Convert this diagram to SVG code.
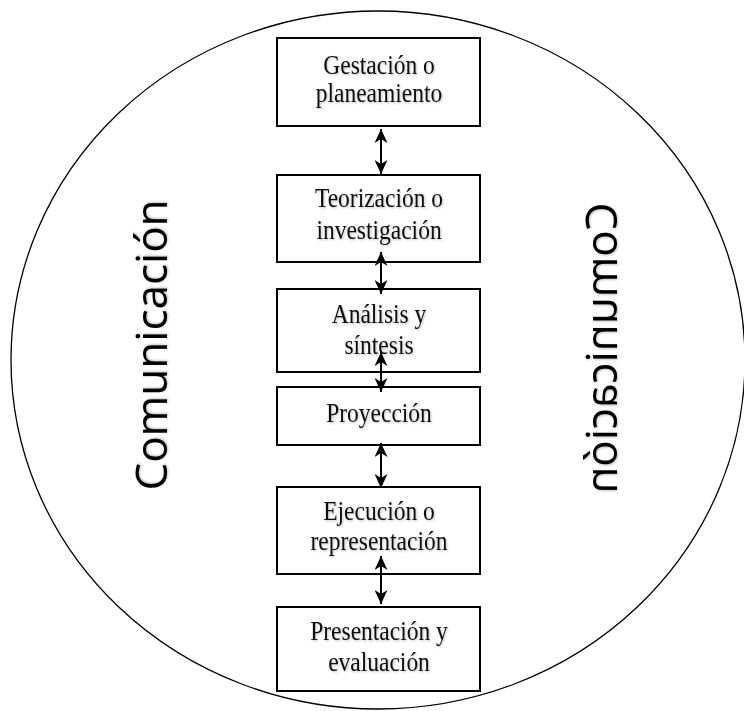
<svg xmlns="http://www.w3.org/2000/svg" width="744" height="711" viewBox="0 0 744 711">
  <defs>
    <style>
      .box { fill: #ffffff; stroke: #000000; stroke-width: 2; }
      .lbl { font-family: "Liberation Serif", "Times New Roman", serif; font-size: 23.5px; fill: #111111; text-anchor: middle; filter: url(#soft); }
      .side { font-family: "Open Sans", "Noto Sans", sans-serif; font-size: 44px; fill: #000000; text-anchor: middle; filter: url(#soft); }
      .link { stroke: #000000; stroke-width: 2; fill: none; marker-start: url(#head); marker-end: url(#head); }
    </style>
    <filter id="soft" x="-10%" y="-20%" width="130%" height="150%">
      <feDropShadow dx="1" dy="1" stdDeviation="1" flood-color="#000000" flood-opacity="0.25"/>
    </filter>
    <marker id="head" viewBox="0 0 14 13" refX="14" refY="6.5" markerWidth="14" markerHeight="13" markerUnits="userSpaceOnUse" orient="auto-start-reverse">
      <path d="M0,0 L14,6.5 L0,13 L4,6.5 z" fill="#000000"/>
    </marker>
  </defs>

  <!-- surrounding communication boundary -->
  <ellipse id="boundary" cx="378" cy="360" rx="367" ry="349" fill="none" stroke="#000000" stroke-width="1.3"/>

  <g id="side-left">
    <text class="side" transform="translate(167,345) rotate(-90)">Comunicación</text>
  </g>
  <g id="side-right">
    <!-- runs downward with the letter tops facing left -->
    <text class="side" transform="matrix(0,1,1,0,617,348)">Comunicación</text>
  </g>

  <g id="gestacion">
    <rect class="box" x="277" y="38" width="203" height="88"/>
    <text class="lbl" transform="translate(379,74) scale(1,1.12)">Gestación o</text>
    <text class="lbl" transform="translate(379,102) scale(1,1.12)">planeamiento</text>
  </g>

  <g id="teorizacion">
    <rect class="box" x="277" y="175" width="203" height="87"/>
    <text class="lbl" transform="translate(379,207) scale(1,1.12)">Teorización o</text>
    <text class="lbl" transform="translate(379,239) scale(1,1.12)">investigación</text>
  </g>

  <g id="analisis">
    <rect class="box" x="277" y="289" width="203" height="83"/>
    <text class="lbl" transform="translate(379,323) scale(1,1.12)">Análisis y</text>
    <text class="lbl" transform="translate(379,354) scale(1,1.12)">síntesis</text>
  </g>

  <g id="proyeccion">
    <rect class="box" x="277" y="387" width="203" height="58"/>
    <text class="lbl" transform="translate(379,422) scale(1,1.12)">Proyección</text>
  </g>

  <g id="ejecucion">
    <rect class="box" x="277" y="487" width="203" height="87"/>
    <text class="lbl" transform="translate(379,520) scale(1,1.12)">Ejecución o</text>
    <text class="lbl" transform="translate(379,550) scale(1,1.12)">representación</text>
  </g>

  <g id="presentacion">
    <rect class="box" x="277" y="607" width="203" height="84"/>
    <text class="lbl" transform="translate(379,640) scale(1,1.12)">Presentación y</text>
    <text class="lbl" transform="translate(379,671) scale(1,1.12)">evaluación</text>
  </g>

  <!-- two-way connectors between stages, drawn over the boxes -->
  <g id="connectors">
    <line class="link" x1="381" y1="129" x2="381" y2="174"/>
    <line class="link" x1="381" y1="252" x2="381" y2="294"/>
    <line class="link" x1="381" y1="352" x2="381" y2="392"/>
    <line class="link" x1="381" y1="443" x2="381" y2="488"/>
    <line class="link" x1="381" y1="556" x2="381" y2="604"/>
  </g>
</svg>
